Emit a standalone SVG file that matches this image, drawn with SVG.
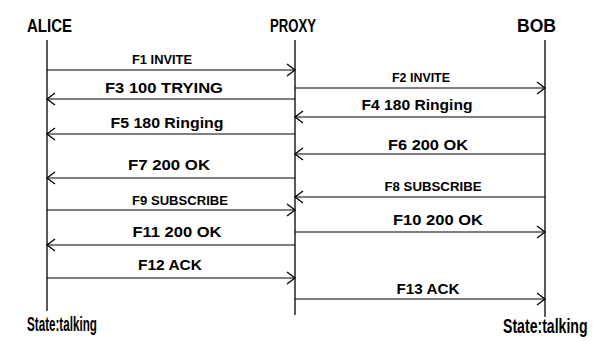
<svg xmlns="http://www.w3.org/2000/svg" width="594" height="341" viewBox="0 0 594 341">
<style>
.life{stroke:#000;stroke-width:1.3;fill:none}
.msg{stroke:#000;stroke-width:1.2;fill:none;marker-end:url(#ah)}
.hd{font-family:"Liberation Sans",Arial,sans-serif;font-weight:bold;font-size:18px;fill:#000}
.lb{font-family:"Liberation Sans",Arial,sans-serif;font-weight:bold;font-size:14px;fill:#000;text-anchor:middle}
.lbs{font-family:"Liberation Sans",Arial,sans-serif;font-weight:bold;font-size:12px;fill:#000;text-anchor:middle}
.st{font-family:"Liberation Sans",Arial,sans-serif;font-weight:bold;font-size:20px;fill:#000}
</style>
<defs>
<marker id="ah" markerUnits="userSpaceOnUse" markerWidth="12" markerHeight="16" viewBox="-10 -8 12 16" refX="0" refY="0" orient="auto">
<path d="M-8,-6 L0,0 L-8,6" fill="none" stroke="#000" stroke-width="1.3"/>
</marker>
</defs>
<rect width="594" height="341" fill="#fff"/>
<g id="alice">
<text class="hd" x="27" y="32" textLength="45" lengthAdjust="spacingAndGlyphs">ALICE</text>
<line class="life" x1="47" y1="40" x2="47" y2="311"/>
<text class="st" transform="translate(27,331) scale(0.583,1)" x="0" y="0">State:talking</text>
</g>
<g id="proxy">
<text class="hd" x="270" y="32" textLength="46" lengthAdjust="spacingAndGlyphs">PROXY</text>
<line class="life" x1="295" y1="40" x2="295" y2="315"/>
</g>
<g id="bob">
<text class="hd" x="517" y="32" textLength="39" lengthAdjust="spacingAndGlyphs">BOB</text>
<line class="life" x1="545" y1="40" x2="545" y2="317"/>
<text class="st" transform="translate(503,333) scale(0.705,1)" x="0" y="0">State:talking</text>
</g>
<g id="connectors">
<line class="msg" x1="47" y1="70" x2="295" y2="70"/>
<text class="lbs" x="162" y="64" textLength="60" lengthAdjust="spacingAndGlyphs">F1 INVITE</text>
<line class="msg" x1="295" y1="88" x2="545" y2="88"/>
<text class="lbs" x="421" y="82" textLength="58" lengthAdjust="spacingAndGlyphs">F2 INVITE</text>
<line class="msg" x1="295" y1="99" x2="47" y2="99"/>
<text class="lb" x="164" y="93" textLength="118" lengthAdjust="spacingAndGlyphs">F3 100 TRYING</text>
<line class="msg" x1="545" y1="117" x2="295" y2="117"/>
<text class="lb" x="417" y="110" textLength="111" lengthAdjust="spacingAndGlyphs">F4 180 Ringing</text>
<line class="msg" x1="295" y1="134" x2="47" y2="134"/>
<text class="lb" x="167" y="128" textLength="113" lengthAdjust="spacingAndGlyphs">F5 180 Ringing</text>
<line class="msg" x1="545" y1="154" x2="295" y2="154"/>
<text class="lb" x="428" y="150" textLength="80" lengthAdjust="spacingAndGlyphs">F6 200 OK</text>
<line class="msg" x1="295" y1="178" x2="47" y2="178"/>
<text class="lb" x="169" y="170" textLength="82" lengthAdjust="spacingAndGlyphs">F7 200 OK</text>
<line class="msg" x1="545" y1="197" x2="295" y2="197"/>
<text class="lbs" x="433" y="191" textLength="97" lengthAdjust="spacingAndGlyphs">F8 SUBSCRIBE</text>
<line class="msg" x1="47" y1="210" x2="295" y2="210"/>
<text class="lbs" x="180" y="205" textLength="96" lengthAdjust="spacingAndGlyphs">F9 SUBSCRIBE</text>
<line class="msg" x1="295" y1="232" x2="545" y2="232"/>
<text class="lb" x="438" y="225" textLength="90" lengthAdjust="spacingAndGlyphs">F10 200 OK</text>
<line class="msg" x1="295" y1="245" x2="47" y2="245"/>
<text class="lb" x="177" y="237" textLength="89" lengthAdjust="spacingAndGlyphs">F11 200 OK</text>
<line class="msg" x1="47" y1="278" x2="295" y2="278"/>
<text class="lb" x="170" y="270" textLength="64" lengthAdjust="spacingAndGlyphs">F12 ACK</text>
<line class="msg" x1="295" y1="299" x2="545" y2="299"/>
<text class="lb" x="428" y="294" textLength="63" lengthAdjust="spacingAndGlyphs">F13 ACK</text>
</g>
</svg>
